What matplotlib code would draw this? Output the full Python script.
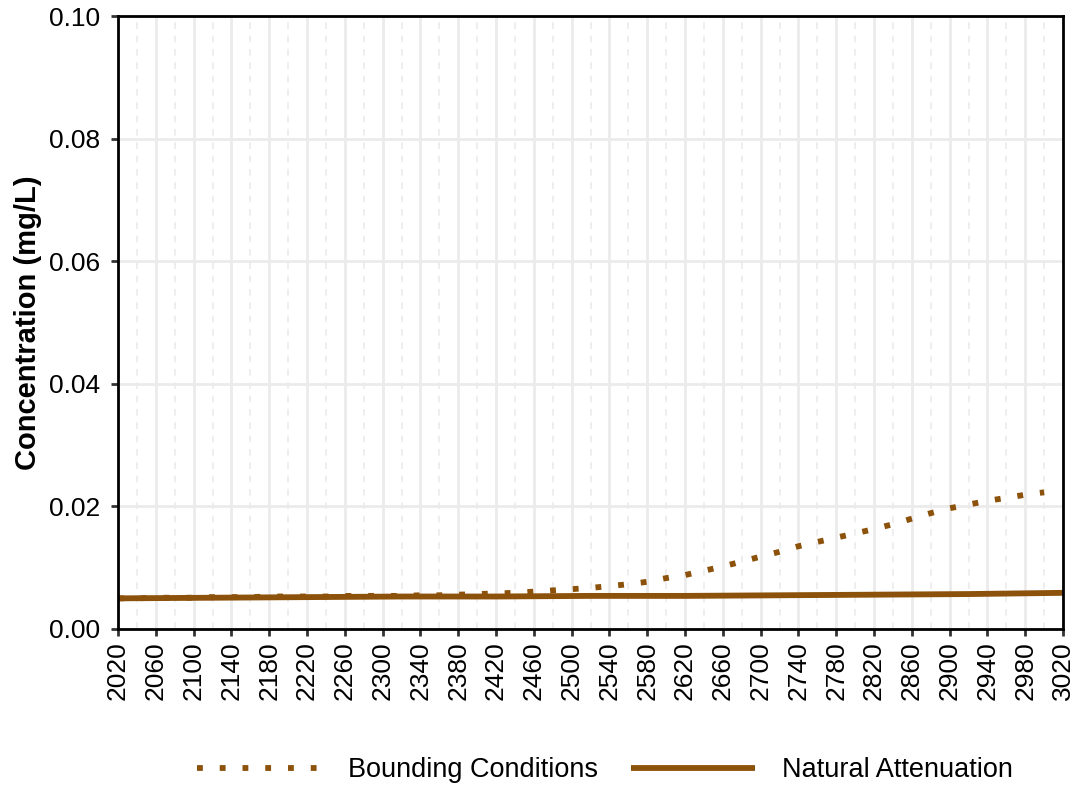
import numpy as np
import matplotlib
matplotlib.use("Agg")
import matplotlib.pyplot as plt
from matplotlib.ticker import FixedLocator, FormatStrFormatter

plt.rcParams['font.family'] = ['Liberation Sans', 'DejaVu Sans']

# Bounding Conditions (every 20 years)
bound_years = list(range(2020, 3001, 20))
bound_conc = [0.0050, 0.0050, 0.0051, 0.0051, 0.0051, 0.0052, 0.0052, 0.0052,
              0.0053, 0.0053, 0.0053, 0.0053, 0.0054, 0.0054, 0.0054, 0.0054,
              0.0055, 0.0055, 0.0056, 0.0057, 0.0058, 0.0059, 0.0061, 0.0063,
              0.0065, 0.0067, 0.0070, 0.0073, 0.0077, 0.0083, 0.0088, 0.0095,
              0.0102, 0.0110, 0.0118, 0.0126, 0.0135, 0.0142, 0.0149, 0.0156,
              0.0163, 0.0171, 0.0180, 0.0189, 0.0197, 0.0203, 0.0209, 0.0214,
              0.0219, 0.0223]

# Natural Attenuation (every 100 years)
nat_years = list(range(2020, 3021, 100))
nat_conc = [0.0050, 0.0051, 0.0052, 0.0053, 0.0053, 0.0054, 0.0054,
            0.0055, 0.0056, 0.0057, 0.0059]

xticks = list(range(2020, 3021, 40))
xminor = list(range(2040, 3001, 40))

brown = '#8C510A'

fig = plt.figure(figsize=(10.81, 7.91), dpi=100)
ax = fig.add_axes([118 / 1081, 1 - 629 / 791, 945 / 1081, 613 / 791])

ax.plot(bound_years, bound_conc, color=brown, lw=4.2,
        linestyle=(0, (1, 2.9)), dash_capstyle='butt', label='Bounding Conditions')
ax.plot(nat_years, nat_conc, color=brown, lw=4.2, solid_capstyle='butt',
        label='Natural Attenuation')

ax.set_xlim(2020, 3020)
ax.set_ylim(0, 0.10)
ax.xaxis.set_major_locator(FixedLocator(xticks))
ax.xaxis.set_minor_locator(FixedLocator(xminor))
ax.set_yticks([0, 0.02, 0.04, 0.06, 0.08, 0.10])
ax.yaxis.set_major_formatter(FormatStrFormatter('%.2f'))

ax.grid(which='major', color='#EBEBEB', lw=2.0, zorder=0)
ax.grid(which='minor', axis='x', color='#EBEBEB', lw=1.2, linestyle=(0, (4, 4)), zorder=0)
ax.set_axisbelow(True)

for s in ax.spines.values():
    s.set_color('black')
    s.set_linewidth(2.0)

ax.tick_params(axis='both', which='major', direction='out', length=5, width=2,
               color='#333333', labelsize=19, labelcolor='black')
ax.tick_params(axis='y', which='major', pad=8)
ax.tick_params(axis='x', which='major', pad=4)
ax.tick_params(axis='x', which='minor', length=0)
for lbl in ax.get_xticklabels():
    lbl.set_rotation(90)

ax.set_ylabel('Concentration (mg/L)', fontsize=21, fontweight='bold', labelpad=5)

fig.legend(loc='center', bbox_to_anchor=(605 / 1081, 1 - 770 / 791), ncol=2,
           frameon=False, fontsize=19.5, handlelength=4.6, handletextpad=1.0,
           columnspacing=1.2)

fig.savefig('out.png', dpi=100)
